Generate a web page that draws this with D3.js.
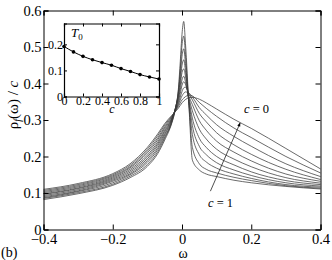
<!DOCTYPE html>
<html>
<head>
<meta charset="utf-8">
<script src="https://cdn.jsdelivr.net/npm/d3@7"></script>
<style>
  body { margin: 0; background: #fff; }
  svg { display: block; }
  text { font-family: "Liberation Serif", "DejaVu Serif", serif; fill: #000; }
</style>
</head>
<body>
<svg id="chart" width="332" height="260"></svg>
<script>
// frequency grid shared by all curves
var omega = [-0.4, -0.3, -0.2, -0.15, -0.1, -0.07, -0.05, -0.03, -0.02, -0.01, -0.005,
             0, 0.005, 0.01, 0.02, 0.03, 0.05, 0.07, 0.1, 0.15, 0.2, 0.3, 0.4];

// rho_f(omega)/c, one array per c
var rho_c00 = [0.110,0.126,0.153,0.180,0.225,0.262,0.290,0.312,0.322,0.333,0.340,0.347,0.352,0.356,0.361,0.362,0.357,0.347,0.330,0.302,0.277,0.222,0.166];
var rho_c01 = [0.107,0.123,0.150,0.176,0.220,0.257,0.286,0.310,0.323,0.338,0.347,0.355,0.360,0.364,0.368,0.366,0.348,0.332,0.310,0.278,0.252,0.200,0.155];
var rho_c02 = [0.104,0.120,0.147,0.172,0.215,0.251,0.281,0.308,0.324,0.343,0.355,0.366,0.373,0.377,0.374,0.363,0.334,0.314,0.287,0.255,0.228,0.180,0.145];
var rho_c03 = [0.101,0.117,0.144,0.169,0.210,0.246,0.277,0.305,0.325,0.348,0.363,0.378,0.388,0.390,0.372,0.355,0.318,0.295,0.265,0.232,0.206,0.165,0.137];
var rho_c04 = [0.098,0.114,0.141,0.165,0.204,0.240,0.272,0.303,0.326,0.354,0.373,0.395,0.405,0.398,0.365,0.342,0.298,0.272,0.242,0.212,0.188,0.152,0.132];
var rho_c05 = [0.096,0.112,0.138,0.161,0.199,0.235,0.268,0.301,0.327,0.360,0.383,0.410,0.420,0.405,0.360,0.325,0.275,0.248,0.220,0.193,0.172,0.142,0.127];
var rho_c06 = [0.093,0.109,0.135,0.157,0.194,0.230,0.263,0.299,0.328,0.366,0.395,0.430,0.440,0.420,0.355,0.305,0.250,0.225,0.200,0.177,0.158,0.134,0.123];
var rho_c07 = [0.090,0.106,0.132,0.153,0.189,0.224,0.259,0.297,0.329,0.372,0.408,0.450,0.465,0.435,0.350,0.285,0.228,0.205,0.183,0.163,0.148,0.128,0.119];
var rho_c08 = [0.087,0.104,0.128,0.150,0.184,0.219,0.254,0.294,0.329,0.378,0.423,0.475,0.495,0.455,0.345,0.260,0.205,0.185,0.168,0.152,0.140,0.123,0.116];
var rho_c09 = [0.085,0.101,0.124,0.146,0.178,0.213,0.250,0.292,0.327,0.384,0.440,0.505,0.530,0.480,0.340,0.225,0.180,0.165,0.155,0.143,0.134,0.120,0.113];
var rho_c10 = [0.082,0.098,0.121,0.142,0.173,0.208,0.245,0.290,0.325,0.390,0.460,0.535,0.570,0.510,0.340,0.190,0.163,0.152,0.145,0.135,0.128,0.118,0.111];
var curves = [rho_c00, rho_c01, rho_c02, rho_c03, rho_c04, rho_c05, rho_c06, rho_c07, rho_c08, rho_c09, rho_c10];

// inset: T0 versus c
var cVals = [0, 0.1, 0.2, 0.3, 0.4, 0.5, 0.6, 0.7, 0.8, 0.9, 1];
var T0 = [0.192, 0.171, 0.154, 0.141, 0.130, 0.120, 0.107, 0.096, 0.084, 0.075, 0.067];

var xTicks = [-0.4, -0.2, 0, 0.2, 0.4];
var yTicks = [0, 0.1, 0.2, 0.3, 0.4, 0.5, 0.6];
var inXTicks = [0, 0.2, 0.4, 0.6, 0.8, 1];
var inYTicks = [0, 0.1, 0.2];

var svg = d3.select('#chart');

var x = d3.scaleLinear().domain([-0.4, 0.4]).range([43.5, 320.5]);
var y = d3.scaleLinear().domain([0, 0.6]).range([229.5, 10.5]);

var fmt = function(d){ return d === 0 ? '0' : d3.format('.1f')(d).replace('-', '\u2212'); };

// curves
var line = d3.line()
	.x(function(d, i){ return x(omega[i]); })
	.y(function(d){ return y(d); })
	.curve(d3.curveMonotoneX);

svg.append('g').selectAll('path')
	.data(curves)
	.enter().append('path')
	.attr('d', line)
	.attr('fill', 'none')
	.attr('stroke', '#3a3a3a')
	.attr('stroke-width', 0.75);

// axes (inward ticks on all four sides)
svg.append('g').attr('transform', 'translate(0,229.5)')
	.call(d3.axisBottom(x).tickValues(xTicks).tickSize(-5).tickPadding(4).tickFormat(fmt));
svg.append('g').attr('transform', 'translate(0,10.5)')
	.call(d3.axisTop(x).tickValues(xTicks).tickSize(-5).tickFormat(''));
svg.append('g').attr('transform', 'translate(43.5,0)')
	.call(d3.axisLeft(y).tickValues(yTicks).tickSize(-5).tickPadding(2).tickFormat(fmt));
svg.append('g').attr('transform', 'translate(320.5,0)')
	.call(d3.axisRight(y).tickValues(yTicks).tickSize(-5).tickFormat(''));

svg.selectAll('.domain').attr('stroke', '#000').attr('stroke-width', 1);
svg.selectAll('.tick line').attr('stroke', '#000');
svg.selectAll('.tick text').attr('font-size', 14.5);

// axis labels
svg.append('text').attr('x', 183).attr('y', 258).attr('text-anchor', 'middle')
	.attr('font-size', 14).text('\u03c9');
var yl = svg.append('text').attr('transform', 'translate(18,105) rotate(-90)')
	.attr('text-anchor', 'middle').attr('font-size', 15);
yl.append('tspan').text('\u03c1');
yl.append('tspan').attr('font-size', 10).attr('dy', 3).attr('font-style', 'italic').text('f');
yl.append('tspan').attr('dy', -3).text('(\u03c9) / ');
yl.append('tspan').attr('font-style', 'italic').text('c');
svg.append('text').attr('x', 1).attr('y', 257).attr('font-size', 14).text('(b)');

// arrow from c = 1 to c = 0
svg.append('defs').append('marker')
	.attr('id', 'head').attr('viewBox', '0 0 10 10').attr('refX', 9).attr('refY', 5)
	.attr('markerWidth', 5).attr('markerHeight', 5).attr('orient', 'auto')
	.append('path').attr('d', 'M0,1 L10,5 L0,9 Z').attr('fill', '#000');
svg.append('line').attr('x1', x(0.082)).attr('y1', y(0.105)).attr('x2', x(0.168)).attr('y2', y(0.292))
	.attr('stroke', '#222').attr('stroke-width', 0.8).attr('marker-end', 'url(#head)');

var lab0 = svg.append('text').attr('x', 244).attr('y', 113).attr('font-size', 12.5);
lab0.append('tspan').attr('font-style', 'italic').text('c');
lab0.append('tspan').text(' = 0');
var lab1 = svg.append('text').attr('x', 208).attr('y', 207).attr('font-size', 12.5);
lab1.append('tspan').attr('font-style', 'italic').text('c');
lab1.append('tspan').text(' = 1');

// inset
var ix = d3.scaleLinear().domain([0, 1]).range([64, 159]);
var iy = d3.scaleLinear().domain([0, 0.28]).range([96.5, 23.5]);
var inset = svg.append('g');
inset.append('rect').attr('x', 64).attr('y', 23.5).attr('width', 95).attr('height', 73)
	.attr('fill', '#fff');

inset.append('g').attr('transform', 'translate(0,96.5)')
	.call(d3.axisBottom(ix).tickValues(inXTicks).tickSize(-3).tickPadding(0).tickFormat(function(d){ return d === 0 || d === 1 ? d : d3.format('.1f')(d); }));
inset.append('g').attr('transform', 'translate(0,23.5)')
	.call(d3.axisTop(ix).tickValues(inXTicks).tickSize(-3).tickFormat(''));
inset.append('g').attr('transform', 'translate(64,0)')
	.call(d3.axisLeft(iy).tickValues(inYTicks).tickSize(-3).tickPadding(1).tickFormat(function(d){ return d === 0 ? '0' : d3.format('.1f')(d); }));
inset.append('g').attr('transform', 'translate(159,0)')
	.call(d3.axisRight(iy).tickValues(inYTicks).tickSize(-3).tickFormat(''));

inset.selectAll('.domain').attr('stroke', '#000').attr('stroke-width', 1.2);
inset.selectAll('.tick line').attr('stroke', '#000');
inset.selectAll('.tick text').attr('font-size', 12);

inset.append('path').datum(T0)
	.attr('d', d3.line().x(function(d, i){ return ix(cVals[i]); }).y(function(d){ return iy(d); }).curve(d3.curveMonotoneX))
	.attr('fill', 'none').attr('stroke', '#000').attr('stroke-width', 1);
inset.selectAll('circle').data(T0).enter().append('circle')
	.attr('cx', function(d, i){ return ix(cVals[i]); })
	.attr('cy', function(d){ return iy(d); })
	.attr('r', 1.8).attr('fill', '#000');

inset.append('text').attr('x', 112).attr('y', 113).attr('text-anchor', 'middle')
	.attr('font-size', 12).attr('font-style', 'italic').text('c');
var tl = inset.append('text').attr('x', 71).attr('y', 37).attr('font-size', 13);
tl.append('tspan').attr('font-style', 'italic').text('T');
tl.append('tspan').attr('font-size', 9).attr('dy', 3).text('0');
</script>
</body>
</html>
